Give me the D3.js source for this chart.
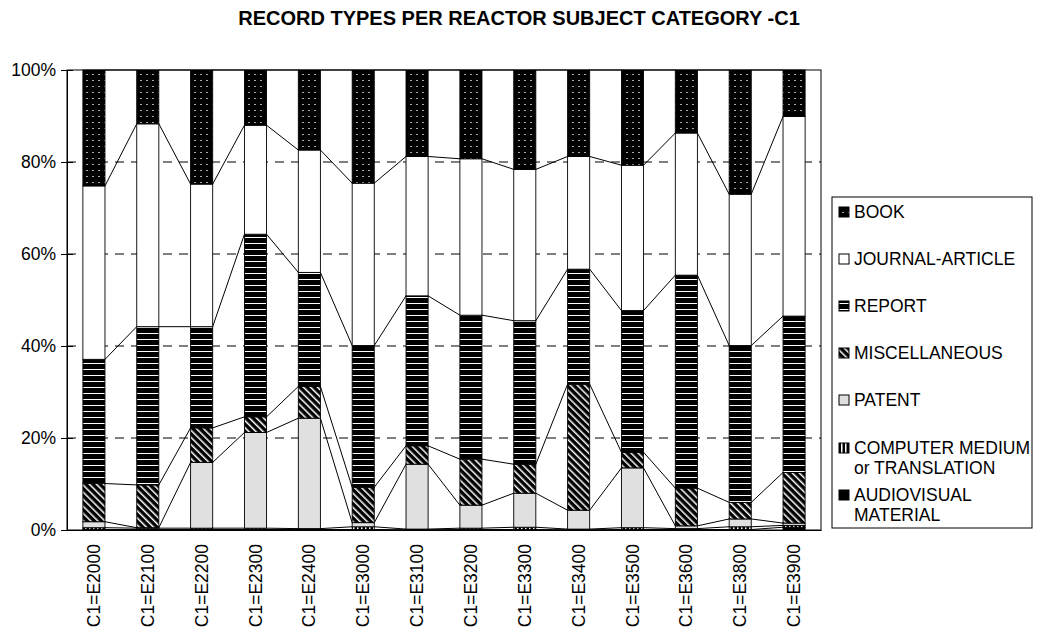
<!DOCTYPE html>
<html><head><meta charset="utf-8">
<script src="https://cdn.jsdelivr.net/npm/d3@7"></script>
<style>body{margin:0;background:#fff;} text{font-family:Arial,"Liberation Sans",sans-serif;fill:#000;}</style>
</head><body><svg id="c" width="1037" height="635"></svg>
<script>
const categories = ["C1=E2000","C1=E2100","C1=E2200","C1=E2300","C1=E2400","C1=E3000","C1=E3100","C1=E3200","C1=E3300","C1=E3400","C1=E3500","C1=E3600","C1=E3800","C1=E3900"];
// percentages per record type (bottom to top in each bar)
const audiovisual    = [0.1, 0.1, 0.1, 0.1, 0.1, 0.1, 0.05, 0.1, 0.1, 0.05, 0.1, 0.1, 0.1, 0.6];
const computerMedium = [0.4, 0.3, 0.3, 0.3, 0.2, 0.6, 0.15, 0.3, 0.5, 0.15, 0.4, 0.2, 0.6, 0.4];
const patent         = [1.3, 0.1, 14.3, 20.8, 24.0, 0.9, 14.1, 5.0, 7.4, 4.1, 13.0, 0.6, 1.7, 0.5];
const miscellaneous  = [8.3, 9.3, 7.5, 3.4, 6.9, 7.7, 4.0, 10.0, 6.3, 27.4, 3.4, 8.2, 3.6, 11.0];
const report         = [27.0, 34.4, 22.0, 39.7, 24.8, 30.8, 32.6, 31.3, 31.2, 25.0, 30.8, 46.3, 34.1, 34.0];
const journalArticle = [37.7, 44.1, 31.0, 23.7, 26.6, 35.3, 30.3, 34.0, 32.9, 24.5, 31.6, 30.9, 32.9, 43.4];
const book           = [25.2, 11.7, 24.8, 12.0, 17.4, 24.6, 18.8, 19.3, 21.6, 18.8, 20.7, 13.7, 27.0, 10.1];
const seriesKeys   = ["audiovisual","computer","patent","misc","report","journal","book"];
const seriesLabels = [["AUDIOVISUAL","MATERIAL"],["COMPUTER MEDIUM","or TRANSLATION"],["PATENT"],["MISCELLANEOUS"],["REPORT"],["JOURNAL-ARTICLE"],["BOOK"]];
const yTicks = [0, 20, 40, 60, 80, 100];
const titleText = "RECORD TYPES PER REACTOR SUBJECT CATEGORY -C1";

const seriesValues = [audiovisual, computerMedium, patent, miscellaneous, report, journalArticle, book];
const table = categories.map((c, i) => {
  const row = {category: c};
  seriesKeys.forEach((k, j) => row[k] = seriesValues[j][i]);
  return row;
});

const svg = d3.select("#c");
const defs = svg.append("defs");
const FS = "17.5px";

function pat(id, w, h, draw, transform) {
  const p = defs.append("pattern").attr("id", id).attr("patternUnits", "userSpaceOnUse")
    .attr("width", w).attr("height", h);
  if (transform) p.attr("patternTransform", transform);
  draw(p);
}
pat("pBook", 6, 6, p => {
  p.append("rect").attr("width", 6).attr("height", 6).attr("fill", "#000");
  p.append("rect").attr("x", 2).attr("y", 2).attr("width", 2).attr("height", 1).attr("fill", "#aaa");
});
pat("pReport", 6, 6, p => {
  p.append("rect").attr("width", 6).attr("height", 6).attr("fill", "#000");
  p.append("rect").attr("x", 0).attr("y", 3).attr("width", 6).attr("height", 1).attr("fill", "#fff");
});
pat("pMisc", 5, 5, p => {
  p.append("rect").attr("width", 5).attr("height", 5).attr("fill", "#000");
  p.append("rect").attr("x", 0).attr("y", 0).attr("width", 1.5).attr("height", 5).attr("fill", "#fff");
}, "rotate(-45)");
pat("pComp", 4, 4, p => {
  p.append("rect").attr("width", 4).attr("height", 4).attr("fill", "#000");
  p.append("rect").attr("x", 1).attr("y", 0).attr("width", 1.5).attr("height", 4).attr("fill", "#fff");
});
const fills = {
  audiovisual: "#000",
  computer: "url(#pComp)",
  patent: "#e0e0e0",
  misc: "url(#pMisc)",
  report: "url(#pReport)",
  journal: "#fff",
  book: "url(#pBook)"
};

const pLeft = 67, pRight = 821, pTop = 70, pBottom = 530;
const x = d3.scaleBand().domain(categories).range([pLeft, pRight]).paddingInner(0.59).paddingOuter(0.295);
const y = d3.scaleLinear().domain([0, 100]).range([pBottom, pTop]);

svg.append("text").attr("x", 519).attr("y", 25).attr("text-anchor", "middle")
  .style("font-weight", "bold").style("font-size", "20px").text(titleText);

svg.append("g").selectAll("line").data(yTicks.filter(t => t > 0 && t < 100)).join("line")
  .attr("x1", pLeft).attr("x2", pRight).attr("y1", d => y(d)).attr("y2", d => y(d))
  .attr("stroke", "#000").attr("stroke-width", 1).attr("stroke-dasharray", "9,7");

const stack = d3.stack().keys(seriesKeys)(table);

const lineG = svg.append("g");
stack.forEach(s => {
  for (let i = 0; i < categories.length - 1; i++) {
    lineG.append("line")
      .attr("x1", x(categories[i]) + x.bandwidth()).attr("y1", y(s[i][1]))
      .attr("x2", x(categories[i + 1])).attr("y2", y(s[i + 1][1]))
      .attr("stroke", "#000").attr("stroke-width", 1);
  }
});

const barG = svg.append("g");
stack.forEach(s => {
  barG.append("g").selectAll("rect").data(s).join("rect")
    .attr("x", d => x(d.data.category))
    .attr("width", x.bandwidth())
    .attr("y", d => y(d[1]))
    .attr("height", d => y(d[0]) - y(d[1]))
    .attr("fill", fills[s.key])
    .attr("stroke", "#000").attr("stroke-width", 0.9);
});

svg.append("rect").attr("x", pLeft).attr("y", pTop).attr("width", pRight - pLeft).attr("height", pBottom - pTop)
  .attr("fill", "none").attr("stroke", "#000").attr("stroke-width", 1);

const yAxis = d3.axisLeft(y).tickValues(yTicks).tickFormat(d => d + "%").tickSize(0).tickPadding(11);
const ya = svg.append("g").attr("transform", `translate(${pLeft},0)`).call(yAxis);
ya.select(".domain").attr("stroke", "#000");
ya.selectAll("text").style("font-size", FS).style("font-family", "Arial,'Liberation Sans',sans-serif").attr("fill", "#000");
ya.selectAll(".tick").append("line").attr("x1", -6).attr("x2", 6).attr("stroke", "#000");

const xAxis = d3.axisBottom(x).tickSize(0).tickPadding(0);
const xa = svg.append("g").attr("transform", `translate(0,${pBottom})`).call(xAxis);
xa.select(".domain").attr("stroke", "#000");
xa.selectAll("text")
  .style("font-size", FS).style("font-family", "Arial,'Liberation Sans',sans-serif").attr("fill", "#000")
  .attr("text-anchor", "end").attr("dy", "0.35em")
  .attr("transform", "translate(0,14) rotate(-90)")
  .attr("x", 0).attr("y", 0);

const lg = svg.append("g");
lg.append("rect").attr("x", 832).attr("y", 197).attr("width", 200).attr("height", 331)
  .attr("fill", "#fff").attr("stroke", "#000").attr("stroke-width", 1);
const legendOrder = seriesKeys.slice().reverse();
const legendY = {book: 212, journal: 259, report: 306, misc: 353, patent: 400, computer: 448, audiovisual: 495};
legendOrder.forEach(k => {
  const idx = seriesKeys.indexOf(k);
  const cy = legendY[k];
  lg.append("rect").attr("x", 839).attr("y", cy - 5).attr("width", 10).attr("height", 10)
    .attr("fill", fills[k]).attr("stroke", "#000").attr("stroke-width", 1);
  seriesLabels[idx].forEach((t, li) => {
    lg.append("text").attr("x", 854).attr("y", cy + li * 20).attr("dy", "0.35em")
      .style("font-size", FS).text(t);
  });
});
</script></body></html>
